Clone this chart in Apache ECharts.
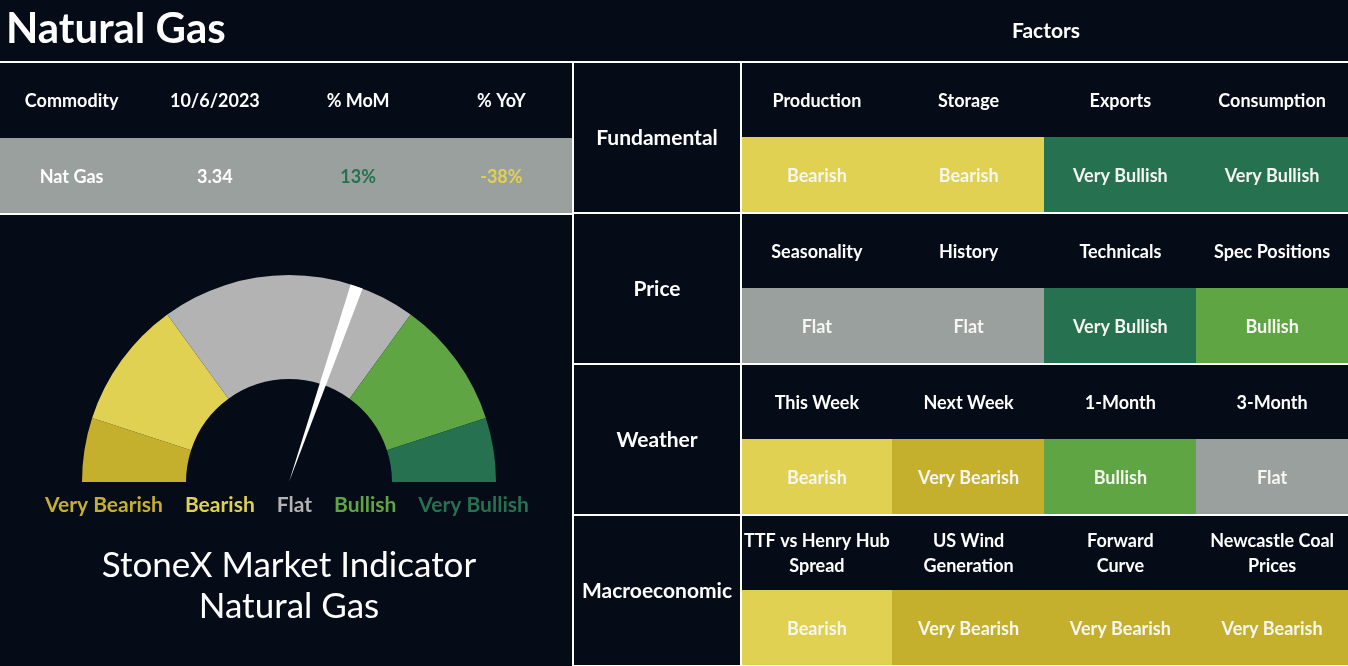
<!DOCTYPE html>
<html><head><meta charset="utf-8">
<script src="https://cdn.jsdelivr.net/npm/echarts@6/dist/echarts.min.js"></script>
<style>html,body{margin:0;padding:0;background:#050b17}#c{width:1348px;height:666px}</style>
</head><body><div id="c"></div>
<script>
// ---------- data ----------
const pageTitle = 'Natural Gas';
const factorsTitle = 'Factors';
const indicatorTitle = 'StoneX Market Indicator\nNatural Gas';
const commodityHeaders = ['Commodity', '10/6/2023', '% MoM', '% YoY'];
const commodityValues = ['Nat Gas', '3.34', '13%', '-38%'];
const factorGroups = ['Fundamental', 'Price', 'Weather', 'Macroeconomic'];
const factorNames = [
  ['Production', 'Storage', 'Exports', 'Consumption'],
  ['Seasonality', 'History', 'Technicals', 'Spec Positions'],
  ['This Week', 'Next Week', '1-Month', '3-Month'],
  ['TTF vs Henry Hub\nSpread', 'US Wind\nGeneration', 'Forward\nCurve', 'Newcastle Coal\nPrices']
];
const factorRatings = [
  ['Bearish', 'Bearish', 'Very Bullish', 'Very Bullish'],
  ['Flat', 'Flat', 'Very Bullish', 'Bullish'],
  ['Bearish', 'Very Bearish', 'Bullish', 'Flat'],
  ['Bearish', 'Very Bearish', 'Very Bearish', 'Very Bearish']
];
const gaugeBands = ['Very Bearish', 'Bearish', 'Flat', 'Bullish', 'Very Bullish'];
const gaugeBandShares = [10, 20, 40, 20, 10];   // percent of the half dial
const indicatorValue = 60.6;                     // needle position, percent of the half dial

// ---------- styles ----------
const BG = '#050b17';
const FONT = 'Lato, "Noto Sans", sans-serif';
const LINE = '#ffffff';
const ratingFill = { 'Very Bearish': '#c5b02e', 'Bearish': '#e0d152', 'Flat': '#9aa09e', 'Bullish': '#5fa544', 'Very Bullish': '#267150' };
const dialFill = { 'Very Bearish': '#c5b02e', 'Bearish': '#e0d152', 'Flat': '#b3b3b3', 'Bullish': '#5fa544', 'Very Bullish': '#267150' };
const NEEDLE_SPAN = 1.95;
const CELL_FONT = 18;

function changeColor(t) {
  if (/^-/.test(t)) return ratingFill['Bearish'];
  if (/%$/.test(t)) return ratingFill['Very Bullish'];
  return '#ffffff';
}

// ---------- cell lists ----------
const leftCells = [];
commodityHeaders.forEach((h, i) => leftCells.push({ value: [i, 0], text: h, fill: 'transparent', color: '#ffffff' }));
commodityValues.forEach((v, i) => leftCells.push({ value: [i, 1], text: v, fill: ratingFill['Flat'], color: changeColor(v) }));

const groupCells = factorGroups.map((g, i) => ({ value: [0, i], text: g, fill: 'transparent', color: '#ffffff', size: 21 }));

const factorCells = [];
factorNames.forEach((row, r) => row.forEach((n, c) => {
  factorCells.push({ value: [c, r * 2], text: n, fill: 'transparent', color: '#ffffff' });
  factorCells.push({ value: [c, r * 2 + 1], text: factorRatings[r][c], fill: ratingFill[factorRatings[r][c]], color: '#f6f6f2' });
}));

function cellRenderer(list) {
  return function (params, api) {
    const item = list[params.dataIndex];
    const p = api.coord([api.value(0), api.value(1)]);
    const s = api.size([1, 1]);
    const x0 = Math.floor(p[0] - s[0] / 2), x1 = Math.ceil(p[0] + s[0] / 2);
    const y0 = Math.floor(p[1] - s[1] / 2), y1 = Math.ceil(p[1] + s[1] / 2);
    return {
      type: 'group',
      children: [
        { type: 'rect', shape: { x: x0, y: y0, width: x1 - x0, height: y1 - y0 }, style: { fill: item.fill, stroke: null, lineWidth: 0 } },
        { type: 'text', x: p[0], y: p[1] + 1, style: {
          text: item.text, fill: item.color, align: 'center', verticalAlign: 'middle',
          fontSize: item.size || CELL_FONT, fontWeight: 'bold', fontFamily: FONT, lineHeight: 25 } }
      ]
    };
  };
}

const hiddenCat = (extra) => Object.assign({
  type: 'category', axisTick: { show: false }, axisLabel: { show: false },
  axisLine: { show: false }, splitLine: { show: false }, z: 10
}, extra);

const needleStart = indicatorValue - NEEDLE_SPAN / 2;

const option = {
  backgroundColor: BG,
  animation: false,
  title: [
    { text: pageTitle, left: 6, top: 8, padding: 0, textStyle: { color: '#ffffff', fontSize: 42, fontWeight: 'bold', fontFamily: FONT } },
    { text: factorsTitle, left: 1046, top: 21, padding: 0, textAlign: 'center', textStyle: { color: '#ffffff', fontSize: 21, fontWeight: 'bold', fontFamily: FONT } },
    { text: indicatorTitle, left: 289, top: 545, padding: 0, textAlign: 'center', textStyle: { color: '#ffffff', fontSize: 35, fontWeight: 'normal', fontFamily: FONT, lineHeight: 41 } }
  ],
  legend: {
    data: gaugeBands.map(n => ({ name: n, textStyle: { color: dialFill[n] } })),
    left: 35, top: 490, itemWidth: 0, itemHeight: 0, itemGap: 17, selectedMode: false,
    textStyle: { fontSize: 21, fontWeight: 'bold', fontFamily: FONT }
  },
  grid: [
    { left: 0, top: 62, width: 573, height: 152 },
    { left: 573, top: 62, width: 168, height: 608 },
    { left: 741, top: 62, width: 607, height: 608 }
  ],
  xAxis: [
    hiddenCat({ gridIndex: 0, data: commodityHeaders, position: 'top', axisLine: { show: true, lineStyle: { color: LINE, width: 2 } } }),
    hiddenCat({ gridIndex: 0, data: commodityHeaders, position: 'bottom', axisLine: { show: true, lineStyle: { color: LINE, width: 2 } } }),
    hiddenCat({ gridIndex: 1, data: ['group'] }),
    hiddenCat({ gridIndex: 2, data: [0, 1, 2, 3] })
  ],
  yAxis: [
    hiddenCat({ gridIndex: 0, data: ['header', 'value'], inverse: true }),
    hiddenCat({ gridIndex: 1, data: factorGroups, inverse: true, position: 'left',
      axisLine: { show: true, lineStyle: { color: LINE, width: 2 } },
      splitLine: { show: true, interval: 0, lineStyle: { color: LINE, width: 2 } } }),
    hiddenCat({ gridIndex: 2, data: [0, 1, 2, 3, 4, 5, 6, 7], inverse: true, position: 'left',
      axisLine: { show: true, lineStyle: { color: LINE, width: 2 } } }),
    hiddenCat({ gridIndex: 2, data: factorGroups, inverse: true, position: 'right',
      splitLine: { show: true, interval: 0, lineStyle: { color: LINE, width: 2 } } })
  ],
  series: [
    { type: 'custom', xAxisIndex: 0, yAxisIndex: 0, data: leftCells, renderItem: cellRenderer(leftCells), silent: true },
    { type: 'custom', xAxisIndex: 2, yAxisIndex: 1, data: groupCells, renderItem: cellRenderer(groupCells), silent: true },
    { type: 'custom', xAxisIndex: 3, yAxisIndex: 2, data: factorCells, renderItem: cellRenderer(factorCells), silent: true },
    {
      type: 'pie', name: 'dial', center: [289, 482], radius: [103, 207], startAngle: 180, clockwise: true,
      silent: true, label: { show: false }, labelLine: { show: false }, emphasis: { disabled: true },
      data: gaugeBands.map((n, i) => ({ name: n, value: gaugeBandShares[i], itemStyle: { color: dialFill[n] } }))
        .concat([{ name: 'lower half', value: gaugeBandShares.reduce((a, b) => a + b, 0), itemStyle: { color: 'transparent' } }])
    },
    {
      type: 'pie', name: 'needle', center: [289, 482], radius: [0, 207], startAngle: 180, clockwise: true, z: 5,
      silent: true, label: { show: false }, labelLine: { show: false }, emphasis: { disabled: true },
      data: [
        { name: 'needle-before', value: needleStart, itemStyle: { color: 'transparent' } },
        { name: 'needle', value: NEEDLE_SPAN, itemStyle: { color: '#ffffff' } },
        { name: 'needle-after', value: 200 - needleStart - NEEDLE_SPAN, itemStyle: { color: 'transparent' } }
      ]
    }
  ]
};

const chart = echarts.init(document.getElementById('c'));
chart.setOption(option);
</script>
</body></html>
